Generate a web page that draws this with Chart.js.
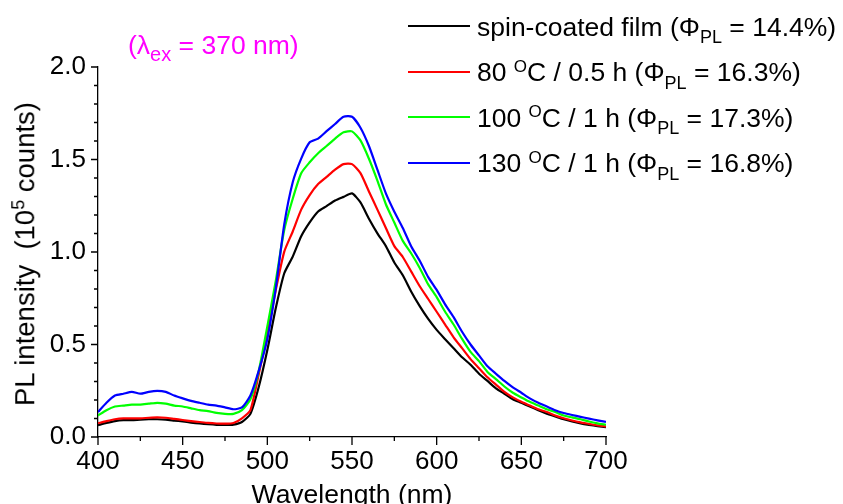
<!DOCTYPE html>
<html><head><meta charset="utf-8">
<script src="https://cdn.jsdelivr.net/npm/chart.js@4/dist/chart.umd.min.js"></script>
<style>
html,body{margin:0;padding:0;background:#fff;}
#wrap{position:relative;width:843px;height:504px;overflow:hidden;font-family:"Liberation Sans",Arial,sans-serif;color:#000;}
#c{position:absolute;left:0;top:0;}
.t{position:absolute;white-space:pre;}
.sub,.sup{position:relative;}
</style></head>
<body>
<div id="wrap">
<canvas id="c" width="843" height="504"></canvas>
<div class="t" id="anno" style="color:#FF00FF;">(λ<span class="sub">ex</span> = 370 nm)</div>
<div class="t" id="ytitle">PL intensity  (10<span class="sup">5</span> counts)</div>
<div class="t" id="xtitle">Wavelength (nm)</div>
<div id="legend"></div>
</div>
<script>
const wavelength = [400,405,410,415,420,425,430,435,440,445,450,455,460,465,470,475,480,485,490,495,500,505,510,515,520,525,530,535,540,545,550,555,560,565,570,575,580,585,590,595,600,605,610,615,620,625,630,635,640,645,650,655,660,665,670,675,680,685,690,695,700];

const spinCoated = [0.064,0.076,0.086,0.091,0.091,0.094,0.096,0.096,0.094,0.089,0.084,0.078,0.073,0.069,0.066,0.065,0.067,0.081,0.125,0.273,0.47,0.697,0.885,0.975,1.085,1.16,1.219,1.248,1.278,1.298,1.317,1.268,1.18,1.101,1.032,0.943,0.874,0.785,0.707,0.638,0.579,0.529,0.48,0.431,0.391,0.342,0.303,0.263,0.234,0.204,0.185,0.165,0.145,0.126,0.111,0.096,0.084,0.074,0.066,0.059,0.053];

const anneal80 = [0.074,0.086,0.096,0.101,0.101,0.101,0.104,0.106,0.104,0.098,0.092,0.086,0.081,0.076,0.073,0.072,0.076,0.101,0.145,0.342,0.559,0.795,1.002,1.111,1.229,1.308,1.367,1.406,1.445,1.475,1.475,1.426,1.327,1.229,1.13,1.032,0.973,0.894,0.815,0.746,0.677,0.608,0.539,0.48,0.421,0.372,0.323,0.283,0.244,0.214,0.19,0.17,0.15,0.135,0.116,0.101,0.089,0.079,0.071,0.063,0.057];

const anneal100 = [0.116,0.145,0.165,0.17,0.175,0.175,0.18,0.185,0.18,0.17,0.165,0.155,0.145,0.14,0.13,0.125,0.125,0.145,0.204,0.36,0.598,0.845,1.12,1.288,1.426,1.485,1.534,1.573,1.613,1.647,1.652,1.603,1.504,1.386,1.258,1.159,1.06,0.992,0.914,0.825,0.756,0.677,0.608,0.53,0.46,0.41,0.352,0.313,0.273,0.239,0.214,0.19,0.17,0.15,0.135,0.116,0.106,0.096,0.084,0.074,0.066];

const anneal130 = [0.135,0.185,0.224,0.234,0.244,0.234,0.244,0.249,0.244,0.224,0.209,0.195,0.185,0.175,0.17,0.16,0.15,0.16,0.224,0.36,0.53,0.805,1.15,1.377,1.505,1.593,1.613,1.653,1.692,1.731,1.731,1.672,1.573,1.445,1.317,1.218,1.13,1.03,0.953,0.864,0.795,0.717,0.648,0.569,0.5,0.441,0.382,0.342,0.303,0.268,0.239,0.209,0.185,0.165,0.145,0.13,0.119,0.109,0.099,0.09,0.082];

const seriesNames = [
  'spin-coated film (Φ<span class="sub">PL</span> = 14.4%)',
  '80 <span class="sup">O</span>C / 0.5 h (Φ<span class="sub">PL</span> = 16.3%)',
  '100 <span class="sup">O</span>C / 1 h (Φ<span class="sub">PL</span> = 17.3%)',
  '130 <span class="sup">O</span>C / 1 h (Φ<span class="sub">PL</span> = 16.8%)'
];
const seriesColors = ['#000000','#FF0000','#00FF00','#0000FF'];
const xTicks = [400,450,500,550,600,650,700];
const xMinorTicks = [425,475,525,575,625,675];
const yTicks = [0,0.5,1.0,1.5,2.0];
const yMinorTicks = [0.1,0.2,0.3,0.4,0.6,0.7,0.8,0.9,1.1,1.2,1.3,1.4,1.6,1.7,1.8,1.9];

const seriesValues = [spinCoated, anneal80, anneal100, anneal130];

// ---- rich text placement helpers (HTML text) ----
const FS = 26.5;
function styleText(el, fs, subFs, subTop, supFs, supTop){
  el.style.fontSize = fs+'px';
  el.style.lineHeight = fs+'px';
  el.querySelectorAll('.sub').forEach(s=>{s.style.fontSize=subFs+'px'; s.style.top=subTop+'px';});
  el.querySelectorAll('.sup').forEach(s=>{s.style.fontSize=supFs+'px'; s.style.top=supTop+'px';});
}
const baseOff = (fs)=>0.8465*fs; // baseline offset from top for line-height = font-size

const anno = document.getElementById('anno');
styleText(anno, FS, 20, 7, 0, 0);
anno.style.left='128px'; anno.style.top=(54.5-baseOff(FS))+'px';

const xt = document.getElementById('xtitle');
styleText(xt, FS, 17, 7.5, 17, -9);
xt.style.left='352px'; xt.style.top=(503.5-baseOff(FS))+'px'; xt.style.transform='translateX(-50%)';

const yt = document.getElementById('ytitle');
const YFS = 27.5;
styleText(yt, YFS, 17, 7.5, 18, -10);
const yc = 37 - (baseOff(YFS) - YFS/2);
yt.style.left = yc+'px'; yt.style.top='254px';
yt.style.transform='translate(-50%,-50%) rotate(-90deg)';

const legendEl = document.getElementById('legend');
const legendLineY = [26,72,117,163];
const legendBaseline = [36,81.5,127,172.5];
seriesNames.forEach((n,i)=>{
  const ln = document.createElement('div');
  ln.style.cssText = 'position:absolute;height:0;width:62px;left:408px;border-top:2px solid '+seriesColors[i]+';top:'+(legendLineY[i]-1)+'px';
  legendEl.appendChild(ln);
  const tx = document.createElement('div');
  tx.className='t';
  tx.innerHTML = n;
  styleText(tx, FS, 18, 7.5, 17, -9.5);
  tx.style.left='477px';
  tx.style.top=(legendBaseline[i]-baseOff(FS))+'px';
  legendEl.appendChild(tx);
});

const tickPlugin = {
  id:'minorMajorTicks',
  afterDraw(chart){
    const {ctx, chartArea:a} = chart;
    const x = chart.scales.x, y = chart.scales.y;
    ctx.save();
    ctx.strokeStyle='#000';
    ctx.lineWidth=1.3;
    ctx.beginPath();
    const xtk = (vals,len)=>vals.forEach(v=>{const p=x.getPixelForValue(v); ctx.moveTo(p,a.bottom); ctx.lineTo(p,a.bottom+len);});
    const ytk = (vals,len)=>vals.forEach(v=>{const p=y.getPixelForValue(v); ctx.moveTo(a.left,p); ctx.lineTo(a.left-len,p);});
    xtk(xTicks,8); xtk(xMinorTicks,4);
    ytk(yTicks,7); ytk(yMinorTicks,4);
    ctx.stroke();
    ctx.restore();
  }
};

const tickFont = {family:'"Liberation Sans", Arial, sans-serif', size:26};

new Chart(document.getElementById('c'), {
  type:'line',
  data:{
    datasets: seriesValues.map((vals,i)=>({
      label: seriesNames[i].replace(/<[^>]+>/g,''),
      data: wavelength.map((w,k)=>({x:w,y:vals[k]})),
      borderColor: seriesColors[i],
      backgroundColor: seriesColors[i],
      borderWidth:2.2,
      pointRadius:0,
      tension:0.2,
      fill:false,
      order: 3-i
    }))
  },
  options:{
    responsive:false,
    animation:false,
    devicePixelRatio:1,
    layout:{padding:{left:0,top:67,right:237,bottom:0}},
    plugins:{legend:{display:false},tooltip:{enabled:false}},
    scales:{
      x:{
        type:'linear', min:400, max:700,
        afterBuildTicks:(s)=>{s.ticks = xTicks.map(v=>({value:v}));},
        afterFit:(s)=>{s.height = 67;},
        grid:{display:false, drawTicks:false},
        border:{display:true,color:'#000',width:1.3},
        ticks:{color:'#000',font:tickFont,padding:9,maxRotation:0,autoSkip:false,callback:(v)=>String(v)}
      },
      y:{
        type:'linear', min:0, max:2,
        afterBuildTicks:(s)=>{s.ticks = yTicks.map(v=>({value:v}));},
        afterFit:(s)=>{s.width = 98;},
        grid:{display:false, drawTicks:false},
        border:{display:true,color:'#000',width:1.3},
        ticks:{color:'#000',font:tickFont,padding:12,autoSkip:false,callback:(v)=>Number(v).toFixed(1)}
      }
    }
  },
  plugins:[tickPlugin]
});
</script>
</body></html>
